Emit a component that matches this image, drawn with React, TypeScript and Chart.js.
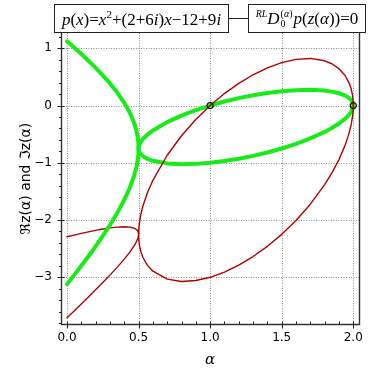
import React, { useEffect, useRef } from 'react';
import { Chart, registerables } from 'chart.js';

Chart.register(...registerables);

// α samples for the branch below the double root (α ≤ 0.5)
const alphaLow = [0, 0.05, 0.1, 0.15, 0.2, 0.25, 0.3, 0.35, 0.4, 0.44, 0.47, 0.485, 0.495, 0.499, 0.5];
// Re of the two roots (green), α ≤ 0.5
const reUpperLow = [1.1213, 1.0121, 0.8993, 0.782, 0.6588, 0.5281, 0.3869, 0.2303, 0.0485, -0.131, -0.3105, -0.4377, -0.5685, -0.6683, -0.75];
const reLowerLow = [-3.1213, -2.9621, -2.7993, -2.632, -2.4588, -2.2781, -2.0869, -1.8803, -1.6485, -1.429, -1.2195, -1.0773, -0.9365, -0.8327, -0.75];
// Im of the two roots (red), α ≤ 0.5
const imLowerLow = [-3.7071, -3.5874, -3.4664, -3.344, -3.2196, -3.0927, -2.9623, -2.8268, -2.6828, -2.5563, -2.4465, -2.3791, -2.3188, -2.2789, -2.25];
const imUpperLow = [-2.2929, -2.2626, -2.2336, -2.206, -2.1804, -2.1573, -2.1377, -2.1232, -2.1172, -2.1237, -2.1435, -2.1659, -2.1962, -2.2241, -2.25];

// α samples for the loop (α ≥ 0.5)
const alphaHigh = [0.5, 0.501, 0.505, 0.515, 0.53, 0.56, 0.6, 0.7, 0.8, 0.9, 1.0, 1.1, 1.2, 1.3, 1.4, 1.5, 1.6, 1.7, 1.8, 1.85, 1.9, 1.94, 1.97, 1.985, 1.995, 1.999, 2.0];
const reUpperHigh = [-0.75, -0.7221, -0.6864, -0.637, -0.5865, -0.5122, -0.4354, -0.2894, -0.1757, -0.081, 0, 0.0696, 0.1292, 0.1792, 0.2196, 0.25, 0.269, 0.2743, 0.2606, 0.2432, 0.2146, 0.1778, 0.1335, 0.098, 0.0586, 0.0269, 0];
const reLowerHigh = [-0.75, -0.7769, -0.8086, -0.848, -0.8835, -0.9279, -0.9646, -1.0106, -1.0243, -1.019, -1.0, -0.9696, -0.9292, -0.8792, -0.8196, -0.75, -0.669, -0.5743, -0.4606, -0.3932, -0.3146, -0.2379, -0.1635, -0.113, -0.0636, -0.0279, 0];
const imUpperHigh = [-2.25, -2.1664, -2.0591, -1.9109, -1.7595, -1.5365, -1.3063, -0.8683, -0.5272, -0.2429, 0, 0.2089, 0.3875, 0.5375, 0.6589, 0.75, 0.8071, 0.8228, 0.7817, 0.7296, 0.6437, 0.5335, 0.4005, 0.2941, 0.1759, 0.0806, 0];
const imLowerHigh = [-2.25, -2.3306, -2.4259, -2.5441, -2.6505, -2.7835, -2.8937, -3.0317, -3.0728, -3.0571, -3.0, -2.9089, -2.7875, -2.6375, -2.4589, -2.25, -2.0071, -1.7228, -1.3817, -1.1796, -0.9437, -0.7135, -0.4905, -0.3391, -0.1909, -0.0836, 0];

// marked points
const markerAlpha = [1, 2];
const markerValue = [0, 0];

// axis ticks
const xTicks = [0, 0.5, 1, 1.5, 2];
const yTicks = [-3, -2, -1, 0, 1];
const xTickLabels = ['0.0', '0.5', '1.0', '1.5', '2.0'];
const yTickLabels = ['\u22123', '\u22122', '\u22121', '0', '1'];

const GREEN = 'rgb(24, 236, 24)';
const RED = 'rgb(178, 0, 0)';

const pts = (xs: number[], ys: number[]) => xs.map((x, i) => ({ x, y: ys[i] }));
const rev = <T,>(a: T[]) => [...a].reverse();

const decor = {
  id: 'decor',
  beforeDatasetsDraw(chart: any) {
    const { ctx, chartArea: a, scales } = chart;
    const x = scales.x, y = scales.y;
    ctx.save();
    ctx.strokeStyle = '#8c8c8c';
    ctx.lineWidth = 1;
    ctx.setLineDash([1, 1.5]);
    xTicks.forEach((v) => {
      const px = Math.round(x.getPixelForValue(v)) + 0.5;
      ctx.beginPath(); ctx.moveTo(px, a.top); ctx.lineTo(px, a.bottom); ctx.stroke();
    });
    yTicks.forEach((v) => {
      const py = Math.round(y.getPixelForValue(v)) + 0.5;
      ctx.beginPath(); ctx.moveTo(a.left, py); ctx.lineTo(a.right, py); ctx.stroke();
    });
    ctx.restore();
  },
  afterDatasetsDraw(chart: any) {
    const { ctx, chartArea: a, scales } = chart;
    const x = scales.x, y = scales.y;
    ctx.save();
    ctx.setLineDash([]);
    ctx.strokeStyle = '#333';
    ctx.lineWidth = 1.4;
    const L = Math.round(a.left) + 0.5, B = Math.round(a.bottom) + 0.5, R = Math.round(a.right) + 0.5;
    ctx.beginPath();
    ctx.moveTo(L, a.top); ctx.lineTo(L, B); ctx.lineTo(R, B); ctx.lineTo(R, a.top);
    ctx.stroke();
    ctx.lineWidth = 1;
    ctx.strokeStyle = '#222';
    // y ticks
    for (let k = -19; k <= 6; k++) {
      const v = k * 0.2;
      const py = Math.round(y.getPixelForValue(v)) + 0.5;
      if (py < a.top || py > a.bottom) continue;
      const major = Math.abs(v - Math.round(v)) < 1e-6;
      ctx.beginPath();
      ctx.moveTo(L - (major ? 4 : 2.5), py); ctx.lineTo(L + (major ? 3 : 0), py);
      ctx.stroke();
    }
    // x ticks
    for (let k = 0; k <= 20; k++) {
      const v = k * 0.1;
      const px = Math.round(x.getPixelForValue(v)) + 0.5;
      const major = k % 5 === 0;
      ctx.beginPath();
      ctx.moveTo(px, B + (major ? 4 : 0)); ctx.lineTo(px, B - (major ? 3 : 3));
      ctx.stroke();
    }
    ctx.restore();
  },
};

function App() {
  const ref = useRef<HTMLCanvasElement | null>(null);

  useEffect(() => {
    if (!ref.current) return;
    const greenC = [...pts(alphaLow, reUpperLow), ...pts(rev(alphaLow), rev(reLowerLow))];
    const redC = [...pts(alphaLow, imUpperLow), ...pts(rev(alphaLow), rev(imLowerLow))];
    const greenLoop = [...pts(alphaHigh, reUpperHigh), ...pts(rev(alphaHigh), rev(reLowerHigh))];
    const redLoop = [...pts(alphaHigh, imUpperHigh), ...pts(rev(alphaHigh), rev(imLowerHigh))];
    const markers = pts(markerAlpha, markerValue);

    const lineDs = (data: any[], color: string, width: number) => ({
      data,
      showLine: true,
      borderColor: color,
      backgroundColor: color,
      borderWidth: width,
      pointRadius: 0,
      tension: 0,
      borderCapStyle: 'round' as const,
      borderJoinStyle: 'round' as const,
    });

    const chart = new Chart(ref.current, {
      type: 'scatter',
      data: {
        datasets: [
          {
            data: markers,
            pointRadius: 3,
            pointBorderWidth: 1.2,
            pointBorderColor: '#111',
            pointBackgroundColor: 'rgba(0,0,0,0)',
            showLine: false,
          } as any,
          lineDs(redLoop, RED, 1.4),
          lineDs(greenLoop, GREEN, 4),
          lineDs(greenC, GREEN, 4),
          lineDs(redC, RED, 1.4),
        ],
      },
      options: {
        responsive: false,
        animation: false,
        devicePixelRatio: 1,
        layout: { padding: { left: 0, right: 15, top: 33, bottom: 0 } },
        plugins: {
          legend: { display: false },
          tooltip: { enabled: false },
          title: { display: false },
        },
        scales: {
          x: {
            type: 'linear',
            min: -0.042,
            max: 2.04,
            afterBuildTicks: (s: any) => { s.ticks = xTicks.map((v) => ({ value: v })); },
            afterFit: (s: any) => { s.height = 54; },
            grid: { display: false, drawTicks: false },
            border: { display: false },
            ticks: {
              autoSkip: false,
              maxRotation: 0,
              padding: 7,
              color: '#000',
              font: { family: 'DejaVu Sans', size: 12 },
              callback: (v: any) => xTickLabels[xTicks.indexOf(Number(v))] ?? '',
            },
            title: {
              display: true,
              text: 'α',
              color: '#000',
              font: { family: 'DejaVu Serif', size: 15, style: 'italic' },
              padding: { top: 0, bottom: 9 },
            },
          },
          y: {
            type: 'linear',
            min: -3.816,
            max: 1.267,
            afterBuildTicks: (s: any) => { s.ticks = yTicks.map((v) => ({ value: v })); },
            afterFit: (s: any) => { s.width = 61; },
            grid: { display: false, drawTicks: false },
            border: { display: false },
            ticks: {
              autoSkip: false,
              padding: 9,
              color: '#000',
              font: { family: 'DejaVu Sans', size: 12 },
              callback: (v: any) => yTickLabels[yTicks.indexOf(Number(v))] ?? '',
            },
            title: {
              display: true,
              text: 'ℜz(α) and ℑz(α)',
              color: '#000',
              font: { family: 'DejaVu Sans', size: 14 },
              padding: { top: 18, bottom: 0 },
            },
          },
        },
      },
      plugins: [decor],
    } as any);

    return () => chart.destroy();
  }, []);

  const boxStyle: React.CSSProperties = {
    position: 'absolute',
    top: 4,
    height: 29,
    boxSizing: 'border-box',
    border: '1.5px solid #222',
    background: '#fff',
    display: 'flex',
    alignItems: 'center',
    justifyContent: 'center',
    fontFamily: '"Liberation Serif", "DejaVu Serif", serif',
    fontSize: 17,
    color: '#000',
    whiteSpace: 'nowrap',
    zIndex: 2,
  };

  return (
    <div style={{ position: 'fixed', left: 0, top: 0, width: 374, height: 378, background: '#fff' }}>
      <canvas ref={ref} width={374} height={378} style={{ position: 'absolute', left: 0, top: 0, width: 374, height: 378 }} />
      <div style={{ position: 'absolute', left: 228, top: 18, width: 21, height: 0, borderTop: '1.5px solid #222', zIndex: 1 }} />
      <div style={{ ...boxStyle, left: 54, width: 175 }}>
        <span>
          <i>p</i>(<i>x</i>)=<i>x</i><sup style={{ fontSize: 11 }}>2</sup>+(2+6<i>i</i>)<i>x</i>−12+9<i>i</i>
        </span>
      </div>
      <div style={{ ...boxStyle, left: 248, width: 118 }}>
        <span style={{ display: 'inline-flex', alignItems: 'center' }}>
          <i style={{ fontSize: 10, position: 'relative', top: -5 }}>RL</i>
          <i>D</i>
          <span style={{ display: 'inline-flex', flexDirection: 'column', fontSize: 10, lineHeight: '10px', marginLeft: 1 }}>
            <span>(<i>α</i>)</span>
            <span>0</span>
          </span>
          <span style={{ marginLeft: 1 }}><i>p</i>(<i>z</i>(<i>α</i>))=0</span>
        </span>
      </div>
    </div>
  );
}

export default App;
